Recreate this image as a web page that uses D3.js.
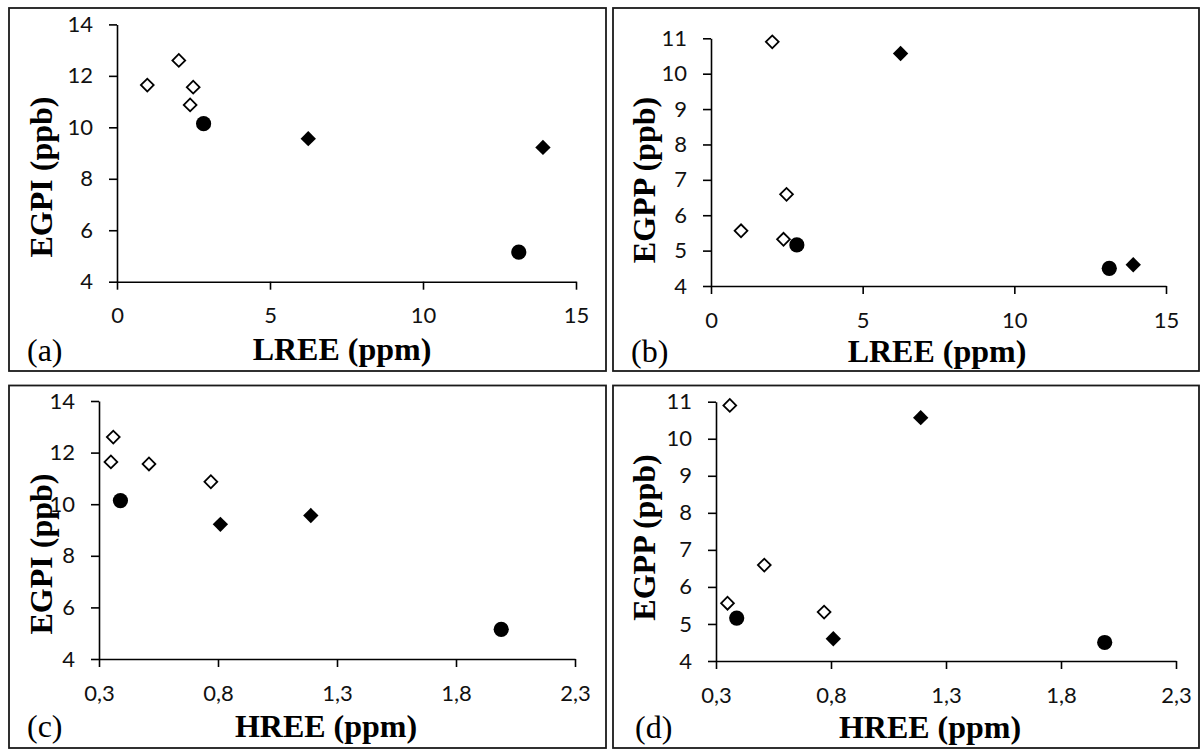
<!DOCTYPE html>
<html>
<head>
<meta charset="utf-8">
<script src="https://cdn.jsdelivr.net/npm/d3@7"></script>
<style>
  html, body { margin: 0; padding: 0; background: #fff; }
  svg { display: block; }
</style>
</head>
<body>
<svg id="chart" width="1204" height="750"></svg>
<script>
// ---------------- DATA ----------------
// Open diamonds
const openLREE = [0.99, 2.02, 2.49, 2.39];
const openHREE = [0.35, 0.36, 0.51, 0.77];
const openEGPI = [11.64, 12.6, 11.56, 10.87];
const openEGPP = [5.56, 10.9, 6.59, 5.32];
// Filled circles
const circleLREE = [2.83, 13.13];
const circleHREE = [0.39, 1.99];
const circleEGPI = [10.14, 5.15];
const circleEGPP = [5.16, 4.5];
// Filled diamonds
const diamondLREE = [6.25, 13.92];
const diamondHREE = [1.19, 0.81];
const diamondEGPI = [9.56, 9.22];
const diamondEGPP = [10.57, 4.6];

const lreeTicks = [0, 5, 10, 15];
const hreeTicks = [0.3, 0.8, 1.3, 1.8, 2.3];
const egpiTicks = [4, 6, 8, 10, 12, 14];
const egppTicks = [4, 5, 6, 7, 8, 9, 10, 11];

const panelLetters = ["(a)", "(b)", "(c)", "(d)"];
const xTitles = ["LREE (ppm)", "LREE (ppm)", "HREE (ppm)", "HREE (ppm)"];
const yTitles = ["EGPI (ppb)", "EGPP (ppb)", "EGPI (ppb)", "EGPP (ppb)"];

// ---------------- LAYOUT ----------------
const layout = [
  { box: [9, 8, 606, 371], x: [117, 576], y: [281.7, 24.4], xt: [342, 360], yt: [51.7, 177], lt: [27, 360.5] },
  { box: [613, 8, 1199, 371], x: [711, 1166], y: [286, 38.3], xt: [937, 362], yt: [655, 180], lt: [631, 362] },
  { box: [9, 385.5, 606, 748], x: [99, 575], y: [659, 401], xt: [326, 737], yt: [51.7, 554], lt: [27, 737] },
  { box: [613, 385.5, 1199, 748], x: [716, 1176], y: [661, 401.7], xt: [930, 738], yt: [655, 537.5], lt: [635, 738] }
];

const panelDefs = [
  { xs: [openLREE, circleLREE, diamondLREE], ys: [openEGPI, circleEGPI, diamondEGPI], xd: [0, 15], yd: [4, 14], xticks: lreeTicks, yticks: egpiTicks },
  { xs: [openLREE, circleLREE, diamondLREE], ys: [openEGPP, circleEGPP, diamondEGPP], xd: [0, 15], yd: [4, 11], xticks: lreeTicks, yticks: egppTicks },
  { xs: [openHREE, circleHREE, diamondHREE], ys: [openEGPI, circleEGPI, diamondEGPI], xd: [0.3, 2.3], yd: [4, 14], xticks: hreeTicks, yticks: egpiTicks },
  { xs: [openHREE, circleHREE, diamondHREE], ys: [openEGPP, circleEGPP, diamondEGPP], xd: [0.3, 2.3], yd: [4, 11], xticks: hreeTicks, yticks: egppTicks }
];

const svg = d3.select("#chart");
const serif = "'Liberation Serif', 'Times New Roman', serif";
const sans = "Lato, 'Open Sans', Calibri, sans-serif";
const fmtComma = d => d3.format(".1f")(d).replace(".", ",");

panelDefs.forEach((p, i) => {
  const L = layout[i];
  const g = svg.append("g");

  // border
  g.append("rect")
    .attr("x", L.box[0]).attr("y", L.box[1])
    .attr("width", L.box[2] - L.box[0]).attr("height", L.box[3] - L.box[1])
    .attr("fill", "none").attr("stroke", "#1a1a1a").attr("stroke-width", 1.8);

  const x = d3.scaleLinear().domain(p.xd).range(L.x);
  const y = d3.scaleLinear().domain(p.yd).range(L.y);

  const xAxis = d3.axisBottom(x).tickValues(p.xticks).tickSize(8).tickSizeOuter(0).tickPadding(18)
    .tickFormat(i >= 2 ? fmtComma : d3.format("d"));
  const yAxis = d3.axisLeft(y).tickValues(p.yticks).tickSize(8).tickSizeOuter(0).tickPadding(16)
    .tickFormat(d3.format("d"));

  const gx = g.append("g").attr("transform", `translate(0,${L.y[0]})`).call(xAxis);
  const gy = g.append("g").attr("transform", `translate(${L.x[0]},0)`).call(yAxis);
  [gx, gy].forEach(ax => {
    ax.attr("font-family", sans).attr("font-size", 22);
    ax.selectAll("path, line").attr("stroke", "#000").attr("stroke-width", 1.6);
    ax.selectAll("text").attr("font-family", sans).attr("font-size", 22).attr("fill", "#111");
  });

  // markers: open diamonds, circles, filled diamonds
  const openPts = p.xs[0].map((v, k) => [v, p.ys[0][k]]);
  const circPts = p.xs[1].map((v, k) => [v, p.ys[1][k]]);
  const diaPts = p.xs[2].map((v, k) => [v, p.ys[2][k]]);

  g.selectAll(".open").data(openPts).join("path")
    .attr("d", d3.symbol(d3.symbolSquare, 82)())
    .attr("transform", d => `translate(${x(d[0])},${y(d[1])}) rotate(45)`)
    .attr("fill", "#fff").attr("stroke", "#000").attr("stroke-width", 1.8);

  g.selectAll(".circ").data(circPts).join("circle")
    .attr("cx", d => x(d[0])).attr("cy", d => y(d[1])).attr("r", 7.6)
    .attr("fill", "#000");

  g.selectAll(".dia").data(diaPts).join("path")
    .attr("d", d3.symbol(d3.symbolSquare, 118)())
    .attr("transform", d => `translate(${x(d[0])},${y(d[1])}) rotate(45)`)
    .attr("fill", "#000");

  // titles
  g.append("text").attr("x", L.xt[0]).attr("y", L.xt[1])
    .attr("text-anchor", "middle").attr("font-family", serif).attr("font-weight", "bold")
    .attr("font-size", 32).attr("fill", "#000").text(xTitles[i]);
  g.append("text").attr("transform", `translate(${L.yt[0]},${L.yt[1]}) rotate(-90)`)
    .attr("text-anchor", "middle").attr("font-family", serif).attr("font-weight", "bold")
    .attr("font-size", 32).attr("fill", "#000").text(yTitles[i]);
  g.append("text").attr("x", L.lt[0]).attr("y", L.lt[1])
    .attr("font-family", serif).attr("font-size", 32).attr("fill", "#000").text(panelLetters[i]);
});
</script>
</body>
</html>
